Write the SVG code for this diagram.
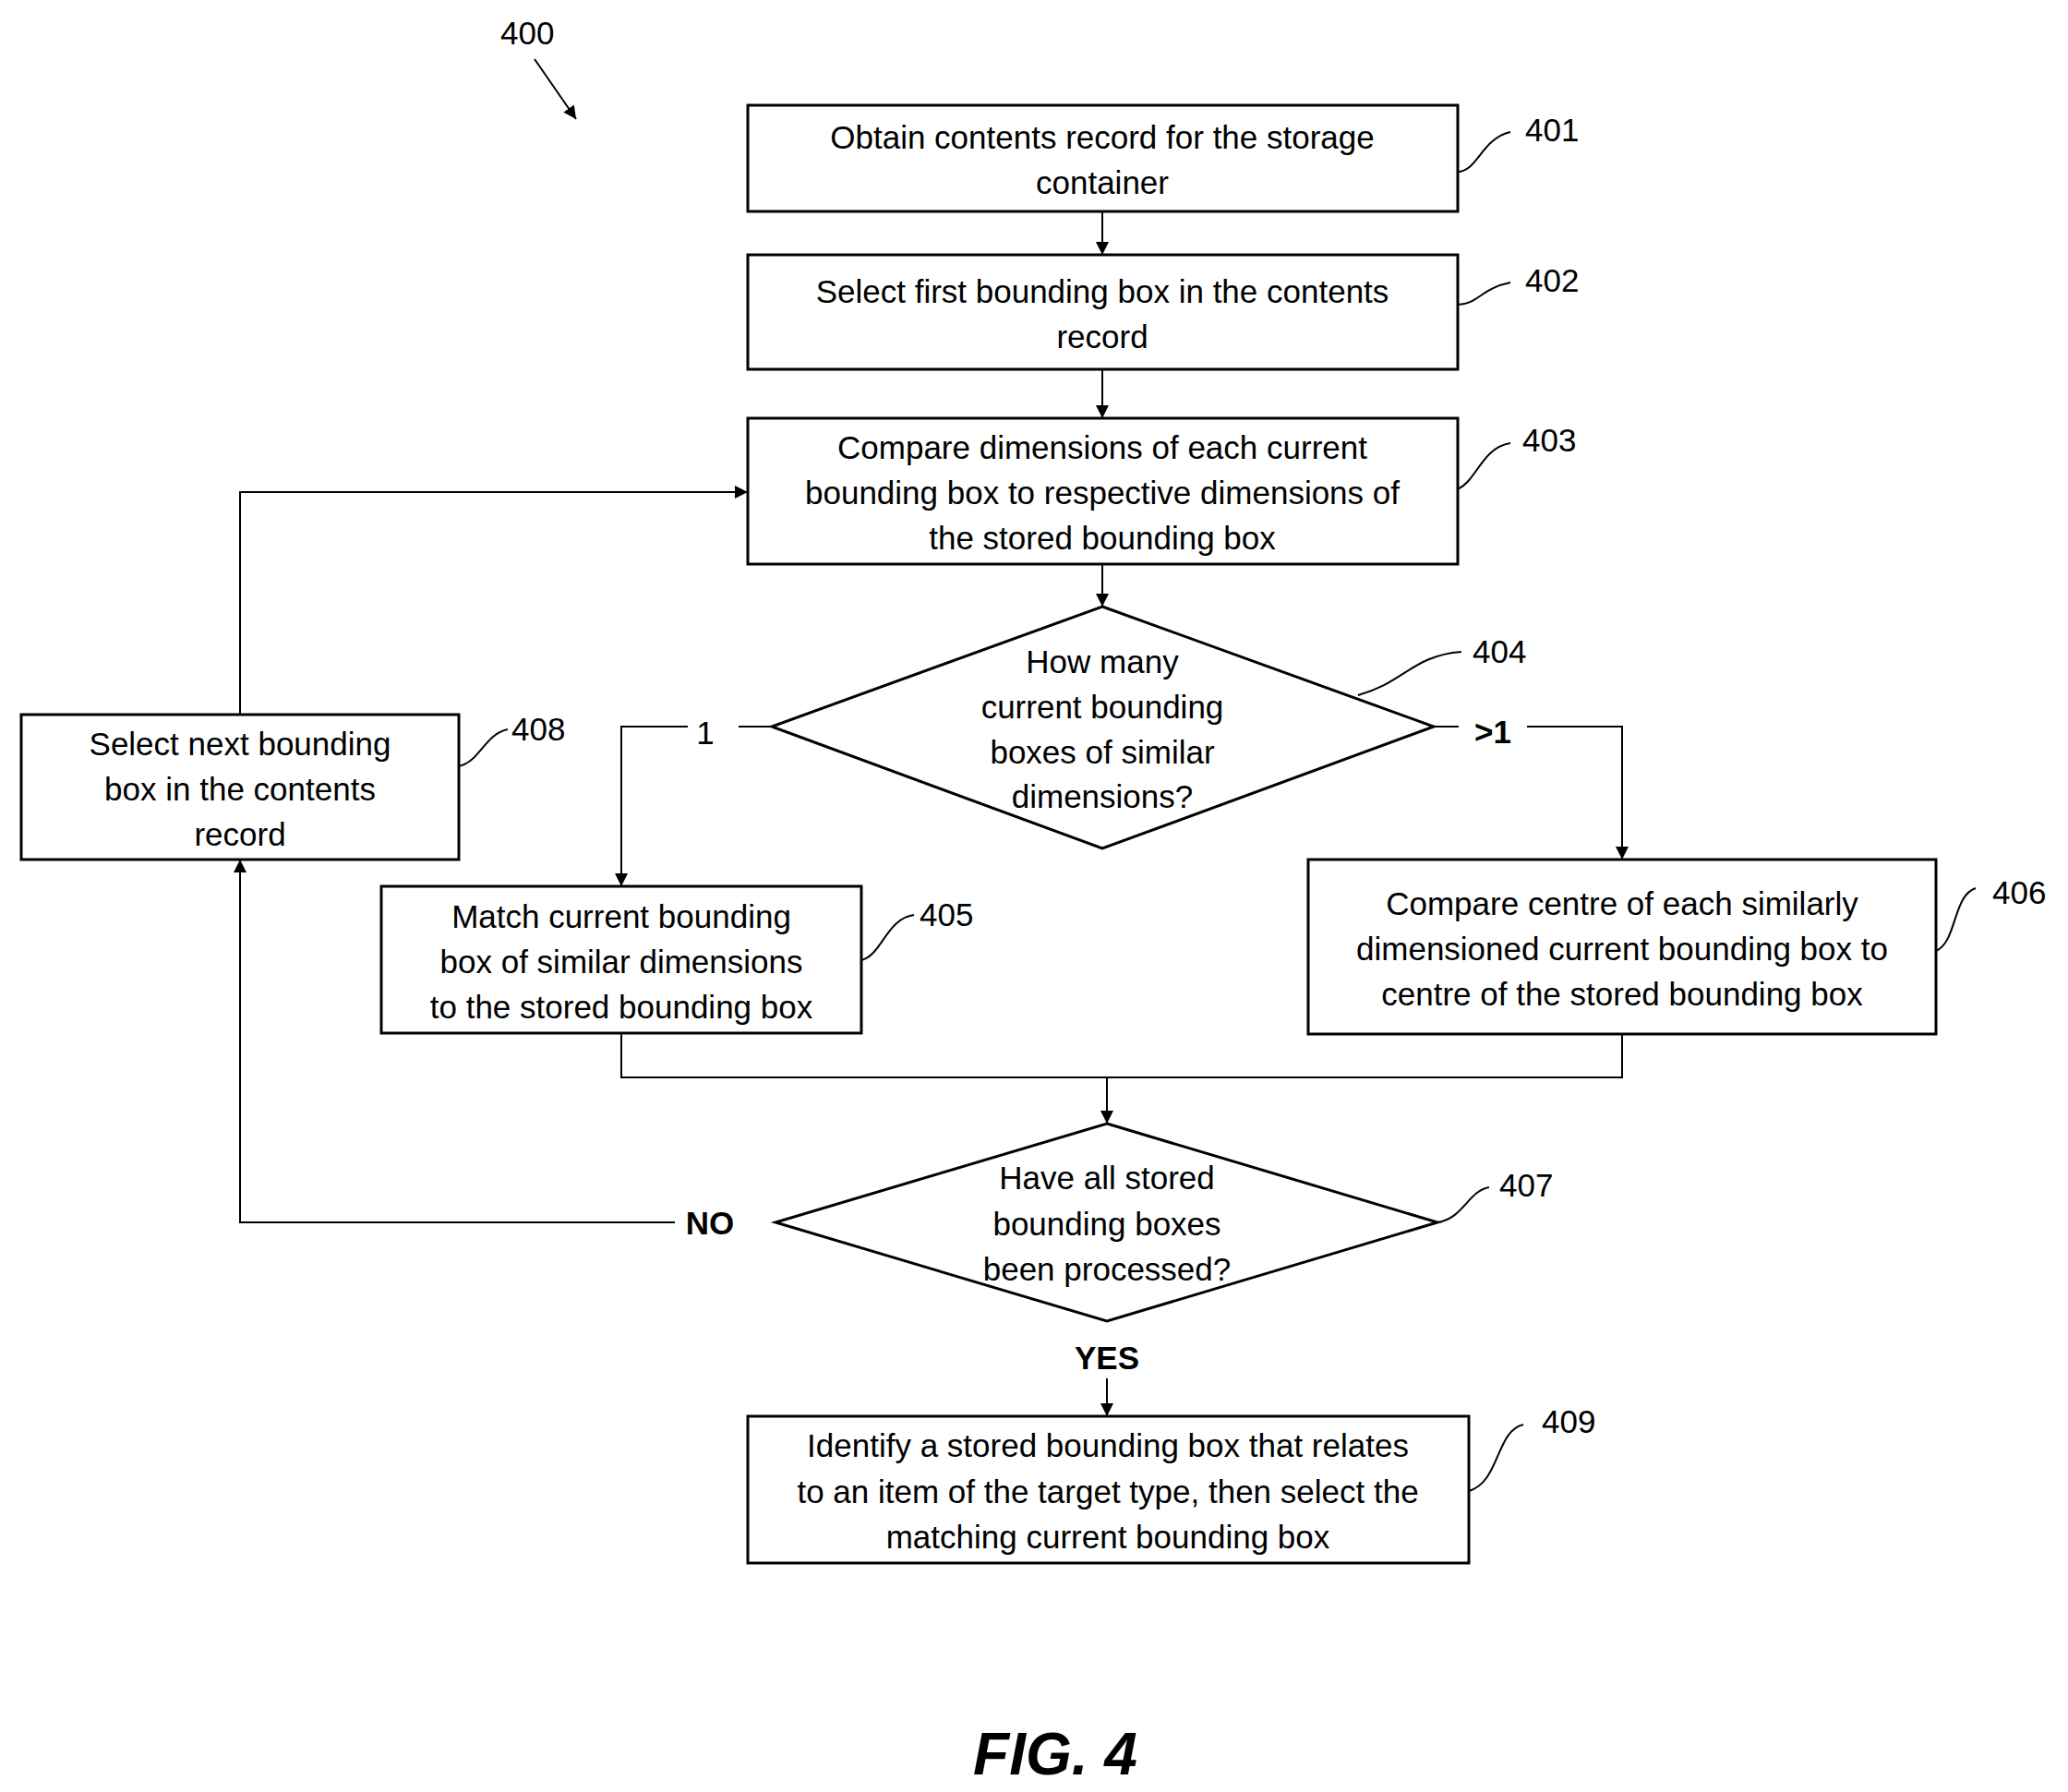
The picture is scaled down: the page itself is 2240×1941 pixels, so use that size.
<svg xmlns="http://www.w3.org/2000/svg" width="2240" height="1941" viewBox="0 0 2240 1941">
<defs>
<marker id="a" viewBox="0 0 10 10" refX="10" refY="5" markerWidth="14" markerHeight="20" markerUnits="userSpaceOnUse" orient="auto"><path d="M0,0 L10,5 L0,10 z" fill="#000"/></marker>
<style>
.n{fill:#fff;stroke:#000;stroke-width:3}
.t{font-family:"Liberation Sans",Arial,sans-serif;font-size:35px;text-anchor:middle;fill:#000}
.l{font-family:"Liberation Sans",Arial,sans-serif;font-size:35px;fill:#000}
.b{font-weight:bold}
.c{fill:none;stroke:#000;stroke-width:2}
.ar{fill:none;stroke:#000;stroke-width:2;marker-end:url(#a)}
</style>
</defs>
<rect width="2240" height="1941" fill="#fff"/>
<g id="connectors">
<path class="ar" d="M1194,229 V276"/>
<path class="ar" d="M1194,400 V453"/>
<path class="ar" d="M1194,611 V657"/>
<path class="c" d="M836,787 H800"/>
<path class="ar" d="M745,787 H673 V960"/>
<path class="c" d="M1553,787 H1580"/>
<path class="ar" d="M1654,787 H1757 V931"/>
<path class="c" d="M673,1119 V1167 H1757 V1120"/>
<path class="ar" d="M1199,1167 V1217"/>
<path class="ar" d="M731,1324 H260 V931"/>
<path class="ar" d="M260,774 V533 H810"/>
<path class="ar" d="M1199,1493 V1534"/>
<path class="ar" d="M579,64 L624,129"/>
<path class="c" d="M1579,186 C1600,186 1605,150 1636,143"/>
<path class="c" d="M1579,330 C1600,330 1605,312 1636,306"/>
<path class="c" d="M1579,530 C1600,520 1605,485 1636,480"/>
<path class="c" d="M1471,753 C1520,740 1530,710 1583,706"/>
<path class="c" d="M933,1040 C955,1035 960,995 990,991"/>
<path class="c" d="M2097,1030 C2120,1020 2115,970 2140,962"/>
<path class="c" d="M1557,1324 C1585,1320 1590,1290 1613,1286"/>
<path class="c" d="M497,830 C520,825 525,795 550,790"/>
<path class="c" d="M1591,1615 C1625,1605 1620,1550 1650,1543"/>
</g>
<text class="l" x="542" y="48">400</text>
<text class="t" x="764" y="806">1</text>
<text class="t b" x="1617" y="805">&gt;1</text>
<text class="t b" x="769" y="1337">NO</text>
<text class="t b" x="1199" y="1483">YES</text>
<text class="l" x="1652" y="153">401</text>
<text class="l" x="1652" y="316">402</text>
<text class="l" x="1649" y="489">403</text>
<text class="l" x="1595" y="718">404</text>
<text class="l" x="996" y="1003">405</text>
<text class="l" x="2158" y="979">406</text>
<text class="l" x="1624" y="1296">407</text>
<text class="l" x="554" y="802">408</text>
<text class="l" x="1670" y="1552">409</text>
<g id="n401"><rect class="n" x="810" y="114" width="769" height="115"/><text class="t" x="1194" y="161">Obtain contents record for the storage</text><text class="t" x="1194" y="210">container</text></g>
<g id="n402"><rect class="n" x="810" y="276" width="769" height="124"/><text class="t" x="1194" y="328">Select first bounding box in the contents</text><text class="t" x="1194" y="377">record</text></g>
<g id="n403"><rect class="n" x="810" y="453" width="769" height="158"/><text class="t" x="1194" y="497">Compare dimensions of each current</text><text class="t" x="1194" y="546">bounding box to respective dimensions of</text><text class="t" x="1194" y="595">the stored bounding box</text></g>
<g id="n404"><polygon class="n" points="1194,657 1553,787 1194,919 836,787"/><text class="t" x="1194" y="729">How many</text><text class="t" x="1194" y="778">current bounding</text><text class="t" x="1194" y="827">boxes of similar</text><text class="t" x="1194" y="875">dimensions?</text></g>
<g id="n405"><rect class="n" x="413" y="960" width="520" height="159"/><text class="t" x="673" y="1005">Match current bounding</text><text class="t" x="673" y="1054">box of similar dimensions</text><text class="t" x="673" y="1103">to the stored bounding box</text></g>
<g id="n406"><rect class="n" x="1417" y="931" width="680" height="189"/><text class="t" x="1757" y="991">Compare centre of each similarly</text><text class="t" x="1757" y="1040">dimensioned current bounding box to</text><text class="t" x="1757" y="1089">centre of the stored bounding box</text></g>
<g id="n407"><polygon class="n" points="1199,1217 1557,1324 1199,1431 840,1324"/><text class="t" x="1199" y="1288">Have all stored</text><text class="t" x="1199" y="1338">bounding boxes</text><text class="t" x="1199" y="1387">been processed?</text></g>
<g id="n408"><rect class="n" x="23" y="774" width="474" height="157"/><text class="t" x="260" y="818">Select next bounding</text><text class="t" x="260" y="867">box in the contents</text><text class="t" x="260" y="916">record</text></g>
<g id="n409"><rect class="n" x="810" y="1534" width="781" height="159"/><text class="t" x="1200" y="1578">Identify a stored bounding box that relates</text><text class="t" x="1200" y="1628">to an item of the target type, then select the</text><text class="t" x="1200" y="1677">matching current bounding box</text></g>
<text class="t b" x="1143" y="1922" style="font-size:64px;font-style:italic">FIG. 4</text>
</svg>
